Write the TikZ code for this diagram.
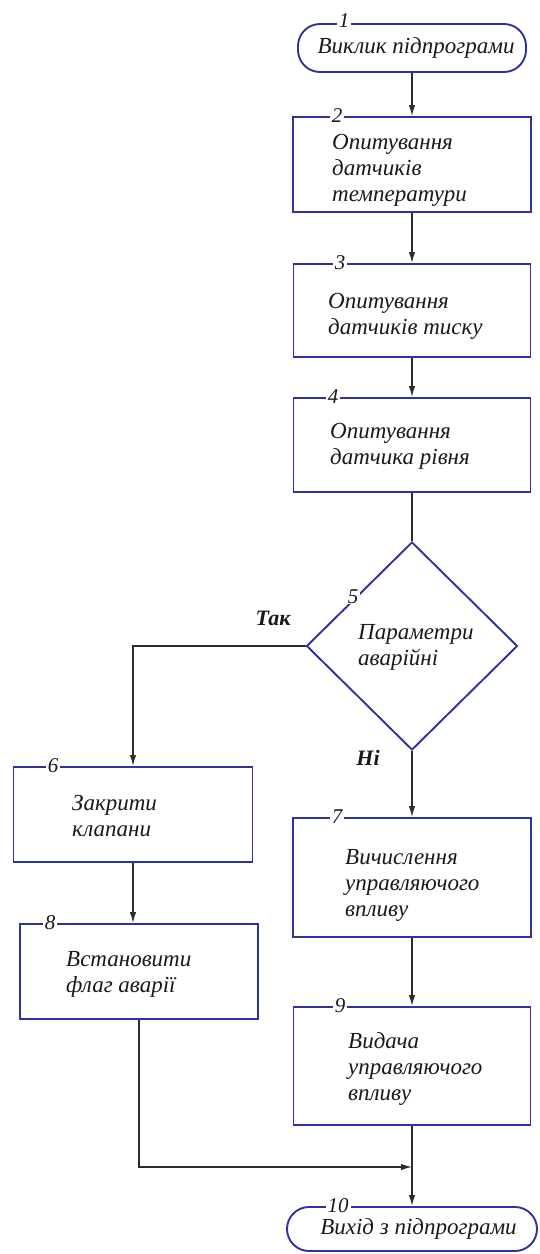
\documentclass[tikz,border=0pt]{standalone}
\usepackage{fontspec}
\setmainfont{Liberation Serif}
\usetikzlibrary{arrows.meta,shapes.geometric}
\definecolor{edge}{RGB}{48,48,165}
\definecolor{wire}{RGB}{45,45,45}
\definecolor{ink}{RGB}{25,25,25}

\begin{document}
\begin{tikzpicture}[x=1pt,y=-1pt,
  block/.style={draw=edge, line width=1.9pt, rectangle, inner sep=0pt},
  term/.style={draw=edge, line width=1.9pt, rectangle, rounded corners=22pt,
    inner sep=0pt, font=\fontsize{23}{26}\selectfont\itshape, text=ink},
  decision/.style={draw=edge, line width=1.9pt, diamond, inner sep=0pt},
  txt/.style={anchor=west, align=left, inner sep=0pt, text=ink,
    font=\fontsize{23}{26}\selectfont\itshape},
  num/.style={fill=white, inner xsep=2pt, inner ysep=0pt, text=ink,
    font=\fontsize{21}{21}\selectfont\itshape},
  branch/.style={text=ink, font=\fontsize{22}{22}\selectfont\bfseries\itshape},
  flow/.style={draw=wire, line width=1.3pt, -{Latex[length=11pt,width=6.5pt]}},
  wire/.style={draw=wire, line width=1.3pt}]
\useasboundingbox (0,0) rectangle (539,1254);

% blocks of the flowchart
\node[term, minimum width=228pt, minimum height=48pt] (t1) at (412,48) {\hspace*{8pt}Виклик підпрограми};
\node[block, minimum width=238pt, minimum height=95pt] (b2) at (412,164.5) {};
\node[block, minimum width=237pt, minimum height=93pt] (b3) at (412,310.5) {};
\node[block, minimum width=237pt, minimum height=94pt] (b4) at (412,445) {};
\node[decision, minimum width=211pt, minimum height=208pt] (d5) at (412,646) {};
\node[block, minimum width=239pt, minimum height=95pt] (b6) at (133,814.5) {};
\node[block, minimum width=238pt, minimum height=95pt] (b8) at (139,971.5) {};
\node[block, minimum width=238pt, minimum height=119pt] (b7) at (412,877.5) {};
\node[block, minimum width=237pt, minimum height=118pt] (b9) at (412,1066) {};
\node[term, minimum width=250pt, minimum height=44pt] (t10) at (412,1229) {\hspace*{13pt}Вихід з підпрограми};

% texts inside the blocks
\node[txt] (l2) at (332,170) {Опитування\\датчиків\\температури};
\node[txt] (l3) at (328,316.5) {Опитування\\датчиків тиску};
\node[txt] (l4) at (330,446) {Опитування\\датчика рівня};
\node[txt] (l5) at (358,647) {Параметри\\аварійні};
\node[txt] (l6) at (72,816) {Закрити\\клапани};
\node[txt] (l8) at (66,974.5) {Встановити\\флаг аварії};
\node[txt] (l7) at (345,885) {Вичислення\\управляючого\\впливу};
\node[txt] (l9) at (348,1069) {Видача\\управляючого\\впливу};

% connectors
\coordinate (m) at (412,1167);
\draw[flow] (t1.south) -- (b2.north);
\draw[flow] (b2.south) -- (b3.north);
\draw[flow] (b3.south) -- (b4.north);
\draw[wire] (b4.south) -- (d5.north);
\draw[flow] (d5.west) -| (b6.north);
\draw[flow] (d5.south) -- (b7.north);
\draw[flow] (b6.south) -- (b6.south |- b8.north);
\draw[flow] (b7.south) -- (b9.north);
\draw[wire] (b9.south) -- (m);
\draw[flow] (b8.south) |- (m);
\draw[flow] (m) -- (t10.north);

% branch labels
\node[branch] (yes) at (273,618) {Так};
\node[branch] (no) at (368,758) {Ні};

% block numbers on the outlines
\node[num] (n1) at (344,21) {1};
\node[num] (n2) at (337,116) {2};
\node[num] (n3) at (340,263) {3};
\node[num] (n4) at (333,397) {4};
\node[num] (n5) at (353,597) {5};
\node[num] (n6) at (53,766) {6};
\node[num] (n7) at (337,817) {7};
\node[num] (n8) at (50,923) {8};
\node[num] (n9) at (340,1006) {9};
\node[num] (n10) at (338,1206) {10};
\end{tikzpicture}
\end{document}
